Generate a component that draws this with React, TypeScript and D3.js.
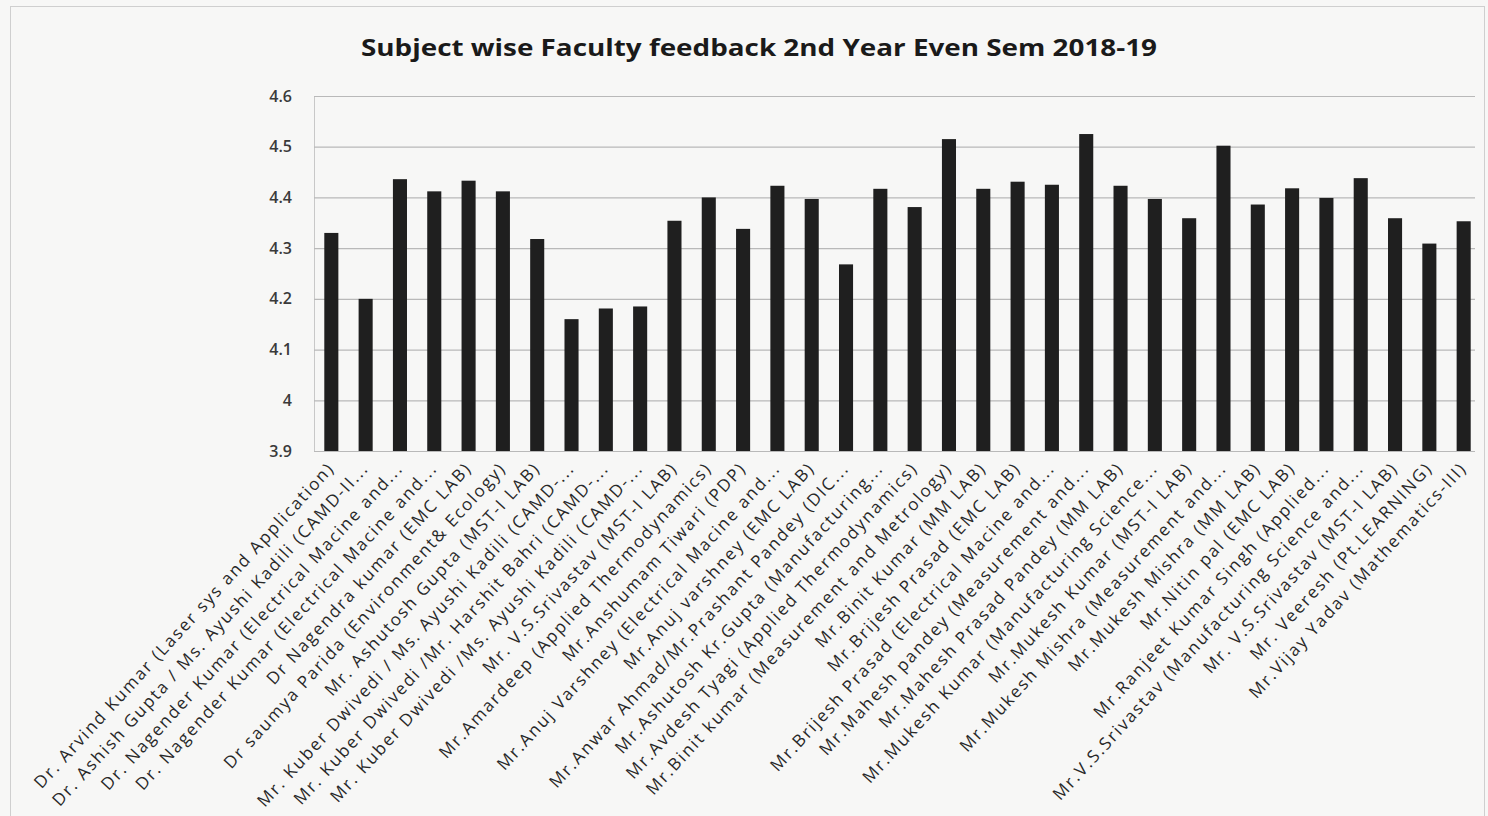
import { axisLeft, scaleBand, scaleLinear, select } from "d3";
import React, { useEffect, useRef } from "react";

const title = "Subject wise Faculty feedback 2nd Year Even Sem 2018-19";

const faculty = [
    "Dr. Arvind Kumar (Laser sys and Application)",
    "Dr. Ashish Gupta / Ms. Ayushi Kadili (CAMD-II...",
    "Dr. Nagender Kumar (Electrical Macine and...",
    "Dr. Nagender Kumar (Electrical Macine and...",
    "Dr Nagendra kumar (EMC LAB)",
    "Dr saumya Parida (Environment& Ecology)",
    "Mr. Ashutosh Gupta (MST-I LAB)",
    "Mr. Kuber Dwivedi / Ms. Ayushi Kadili (CAMD-...",
    "Mr. Kuber Dwivedi /Mr. Harshit Bahri (CAMD-...",
    "Mr. Kuber Dwivedi /Ms. Ayushi Kadili (CAMD-...",
    "Mr. V.S.Srivastav (MST-I LAB)",
    "Mr.Amardeep (Applied Thermodynamics)",
    "Mr.Anshumam Tiwari (PDP)",
    "Mr.Anuj Varshney (Electrical Macine and...",
    "Mr.Anuj varshney (EMC LAB)",
    "Mr.Anwar Ahmad/Mr.Prashant Pandey (DIC...",
    "Mr.Ashutosh Kr.Gupta (Manufacturing...",
    "Mr.Avdesh Tyagi (Applied Thermodynamics)",
    "Mr.Binit kumar (Measurement and Metrology)",
    "Mr.Binit Kumar (MM LAB)",
    "Mr.Brijesh Prasad  (EMC LAB)",
    "Mr.Brijesh Prasad (Electrical Macine and...",
    "Mr.Mahesh pandey (Measurement and...",
    "Mr.Mahesh Prasad Pandey (MM LAB)",
    "Mr.Mukesh Kumar (Manufacturing Science...",
    "Mr.Mukesh Kumar (MST-I LAB)",
    "Mr.Mukesh Mishra (Measurement and...",
    "Mr.Mukesh Mishra (MM LAB)",
    "Mr.Nitin pal (EMC LAB)",
    "Mr.Ranjeet Kumar Singh (Applied...",
    "Mr.V.S.Srivastav (Manufacturing Science and...",
    "Mr. V.S.Srivastav (MST-I LAB)",
    "Mr. Veeresh (Pt.LEARNING)",
    "Mr.Vijay Yadav (Mathematics-III)",
];

const feedback = [
    4.33, 4.2, 4.436, 4.412, 4.433, 4.412, 4.318, 4.16, 4.181, 4.185,
    4.354, 4.4, 4.338, 4.423, 4.397, 4.268, 4.417, 4.381, 4.515, 4.417,
    4.431, 4.425, 4.525, 4.423, 4.397, 4.359, 4.502, 4.386, 4.418, 4.399,
    4.438, 4.359, 4.309, 4.353,
];

const yTicks = [3.9, 4, 4.1, 4.2, 4.3, 4.4, 4.5, 4.6];

const App: React.FC = () => {
    const svgRef = useRef<SVGSVGElement>(null);

    useEffect(() => {
        if (!svgRef.current) return;
        svgRef.current.innerHTML = "";

        const W = 1488,
            H = 816;
        const margin = { top: 96, right: 7, bottom: 365, left: 314 };
        const height = H - margin.top - margin.bottom;

        const svg = select(svgRef.current)
            .attr("width", W)
            .attr("height", H);

        svg.append("rect")
            .attr("width", W)
            .attr("height", H)
            .attr("fill", "#f7f7f6");

        svg.append("rect")
            .attr("x", 10.5)
            .attr("y", 6.5)
            .attr("width", W - 14)
            .attr("height", H)
            .attr("fill", "none")
            .attr("stroke", "#cfcfcf");

        const x = scaleBand<string>()
            .domain(faculty.map((_, i) => String(i)))
            .range([margin.left, W - margin.right])
            .paddingInner(0.59)
            .paddingOuter(0.3);

        const y = scaleLinear()
            .domain([3.9, 4.6])
            .range([margin.top + height, margin.top]);

        svg.append("text")
            .attr("x", 759)
            .attr("y", 56)
            .attr("text-anchor", "middle")
            .attr("font-family", "'Open Sans', sans-serif")
            .attr("font-weight", 700)
            .attr("font-size", 24)
            .attr("fill", "#1a1a1a")
            .attr("textLength", 796)
            .attr("lengthAdjust", "spacingAndGlyphs")
            .text(title);

        svg.append("g")
            .attr("transform", `translate(${margin.left},0)`)
            .call(
                axisLeft(y)
                    .tickValues(yTicks)
                    .tickSize(-(W - margin.left - margin.right - 6))
                    .tickPadding(22)
                    .tickFormat(d => String(d)),
            )
            .call(g => g.select(".domain").attr("stroke", "#c8c8c8"))
            .call(g =>
                g.selectAll(".tick line")
                    .attr("stroke", "#b9b9b9")
                    .attr("stroke-width", 1.2),
            )
            .call(g =>
                g.selectAll(".tick text")
                    .attr("font-family", "'Open Sans', sans-serif")
                    .attr("font-size", 16)
                    .attr("font-weight", 600)
                    .attr("fill", "#3a3a3a"),
            );

        svg.append("g")
            .selectAll("rect")
            .data(feedback)
            .join("rect")
            .attr("x", (_, i) => x(String(i))!)
            .attr("y", d => y(d))
            .attr("width", x.bandwidth())
            .attr("height", d => y(3.9) - y(d))
            .attr("fill", "#1f1f1f");

        svg.append("g")
            .selectAll("text")
            .data(faculty)
            .join("text")
            .attr(
                "transform",
                (_, i) =>
                    `translate(${x(String(i))! + x.bandwidth() / 2 + 4},${y(3.9) + 18}) rotate(-47.5)`,
            )
            .attr("text-anchor", "end")
            .attr("font-family", "'Open Sans', sans-serif")
            .attr("font-size", 17)
            .attr("letter-spacing", 1.9)
            .attr("fill", "#282828")
            .text(d => d);
    }, []);

    return (
        <svg
            ref={svgRef}
            style={{ position: "absolute", left: 0, top: 0, display: "block" }}
        ></svg>
    );
};

export default App;
